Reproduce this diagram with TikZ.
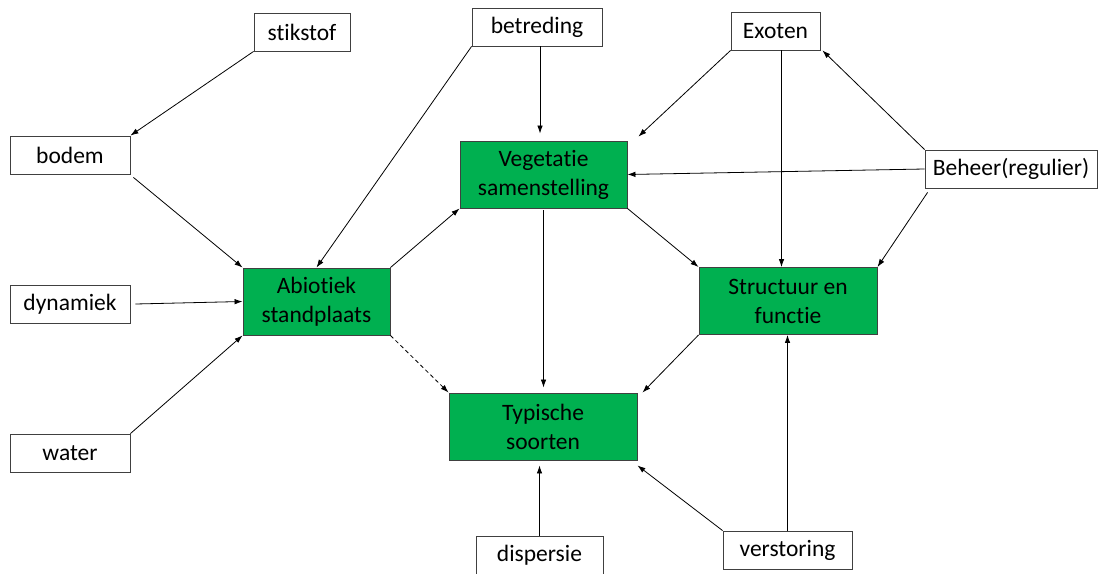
\documentclass[tikz,border=0pt]{standalone}
\usepackage{fontspec}
\setmainfont{Carlito}[RawFeature=-liga]
\usetikzlibrary{arrows.meta}
\definecolor{kerngroen}{RGB}{0,176,80}
\begin{document}
\begin{tikzpicture}[x=1pt,y=-1pt,
    factor/.style={draw=black!75,line width=0.9pt,fill=white,inner sep=0pt,
      minimum height=38pt,font=\fontsize{23.5}{29}\selectfont},
    kern/.style={factor,fill=kerngroen,minimum height=67pt,align=center},
    pijl/.style={-{Latex[length=8pt,width=5.5pt]},line width=0.8pt}]
    \useasboundingbox (0,0) rectangle (1099,573);
    \node[factor,minimum width=96pt] (stikstof) at (302,32) {stikstof};
    \node[factor,minimum width=130pt] (betreding) at (537,27) {betreding};
    \node[factor,minimum width=89pt] (exoten) at (775.5,31) {Exoten};
    \node[factor,minimum width=120pt] (bodem) at (70,155) {bodem};
    \node[factor,minimum width=120pt] (dynamiek) at (70,304) {dynamiek};
    \node[factor,minimum width=120pt] (water) at (70,453) {water};
    \node[factor,minimum width=172pt] (beheer) at (1011,169) {Beheer(regulier)};
    \node[factor,minimum width=127pt] (dispersie) at (539.5,555) {dispersie};
    \node[factor,minimum width=129pt] (verstoring) at (787.5,550) {verstoring};
    \node[kern,minimum width=167pt] (veg) at (543.5,174.5) {Vegetatie\\samenstelling};
    \node[kern,minimum width=147pt] (abiotiek) at (316.5,301.5) {Abiotiek\\standplaats};
    \node[kern,minimum width=178pt] (structuur) at (788,301) {Structuur en\\functie};
    \node[kern,minimum width=188pt] (typisch) at (543,426.5) {Typische\\soorten};
    \draw[pijl] (stikstof.south west) -- (bodem.north east);
    \draw[pijl] ([shift={(3pt,-3pt)}]bodem.south east) -- (abiotiek.north west);
    \draw[pijl] (betreding.south west) -- (abiotiek.north);
    \draw[pijl,shorten >=7pt] ([xshift=3pt]betreding.south) -- ([xshift=3pt]betreding.south |- veg.north);
    \draw[pijl] (exoten.south west) -- ([shift={(11pt,4pt)}]veg.north east);
    \draw[pijl] ([xshift=6pt]exoten.south) -- ([xshift=6pt]exoten.south |- structuur.north);
    \draw[pijl] (beheer.north west) -- ([xshift=2pt]exoten.south east);
    \draw[pijl] (beheer.west) -- (veg.east);
    \draw[pijl] ([shift={(3pt,-4pt)}]beheer.south west) -- (structuur.north east);
    \draw[pijl] (veg.south east) -- (structuur.north west);
    \draw[pijl] (abiotiek.north east) -- (veg.south west);
    \draw[pijl,shorten >=5pt] ([yshift=-2pt]veg.south) -- (veg.south |- typisch.north);
    \draw[pijl,dash pattern=on 4pt off 3pt] (abiotiek.south east) -- (typisch.north west);
    \draw[pijl] (structuur.south west) -- ([xshift=5pt]typisch.north east);
    \draw[pijl,shorten >=5pt] (dispersie.north) -- (dispersie.north |- typisch.south);
    \draw[pijl] (verstoring.north west) -- ([yshift=-5pt]typisch.south east);
    \draw[pijl] (verstoring.north) -- (verstoring.north |- structuur.south);
    \draw[pijl] ([xshift=5pt]dynamiek.east) -- (abiotiek.west);
    \draw[pijl] (water.north east) -- (abiotiek.south west);
\end{tikzpicture}
\end{document}
